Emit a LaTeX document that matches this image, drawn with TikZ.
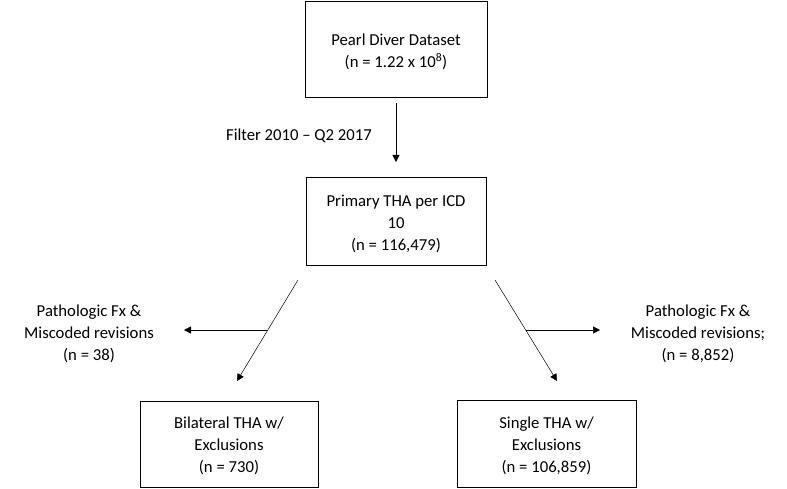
\documentclass[tikz,border=0pt]{standalone}
\usepackage{fontspec}
\setmainfont{Carlito}
\usetikzlibrary{arrows.meta}
\begin{document}
\begin{tikzpicture}[x=1pt,y=-1pt,
  box/.style={draw,line width=0.9pt,inner sep=0pt},
  txt/.style={font=\fontsize{16.7}{22}\selectfont,align=center,inner sep=0pt},
  arr/.style={-{Triangle[length=7pt,width=7pt]},line width=0.5pt}]
\useasboundingbox (0,0) rectangle (787,489);
\node[box,minimum width=182pt,minimum height=96pt] (top) at (396,49) {};
\node[txt] (toptxt) at (396,52) {Pearl Diver Dataset\\(n = 1.22 x 10\textsuperscript{8})};
\node[box,minimum width=180pt,minimum height=88pt] (mid) at (396,221) {};
\node[txt] (midtxt) at (396,224) {Primary THA per ICD\\10\\(n = 116,479)};
\node[box,minimum width=178pt,minimum height=86pt] (bl) at (229,444) {};
\node[txt] (bltxt) at (229,446) {Bilateral THA w/\\Exclusions\\(n = 730)};
\node[box,minimum width=179pt,minimum height=87pt] (br) at (546.5,443.5) {};
\node[txt] (brtxt) at (546.5,446) {Single THA w/\\Exclusions\\(n = 106,859)};
\node[txt,anchor=east] (filter) at (372,136) {Filter 2010 -- Q2 2017};
\node[txt] (ll) at (89,334) {Pathologic Fx \&\\Miscoded revisions\\(n = 38)};
\node[txt] (rl) at (698,334) {Pathologic Fx \&\\Miscoded revisions;\\(n = 8,852)};
\coordinate (a1) at (396,103);
\coordinate (a2) at (396,162);
\coordinate (l1) at (298,280);
\coordinate (l2) at (237,381);
\coordinate (lm) at (267,330);
\coordinate (lh) at (184,330);
\coordinate (r1) at (495,280);
\coordinate (r2) at (557,381);
\coordinate (rm) at (526,330);
\coordinate (rh) at (600,330);
\draw[arr] (a1) -- (a2);
\draw[arr] (l1) -- (l2);
\draw[arr] (lm) -- (lh);
\draw[arr] (r1) -- (r2);
\draw[arr] (rm) -- (rh);
\end{tikzpicture}
\end{document}
